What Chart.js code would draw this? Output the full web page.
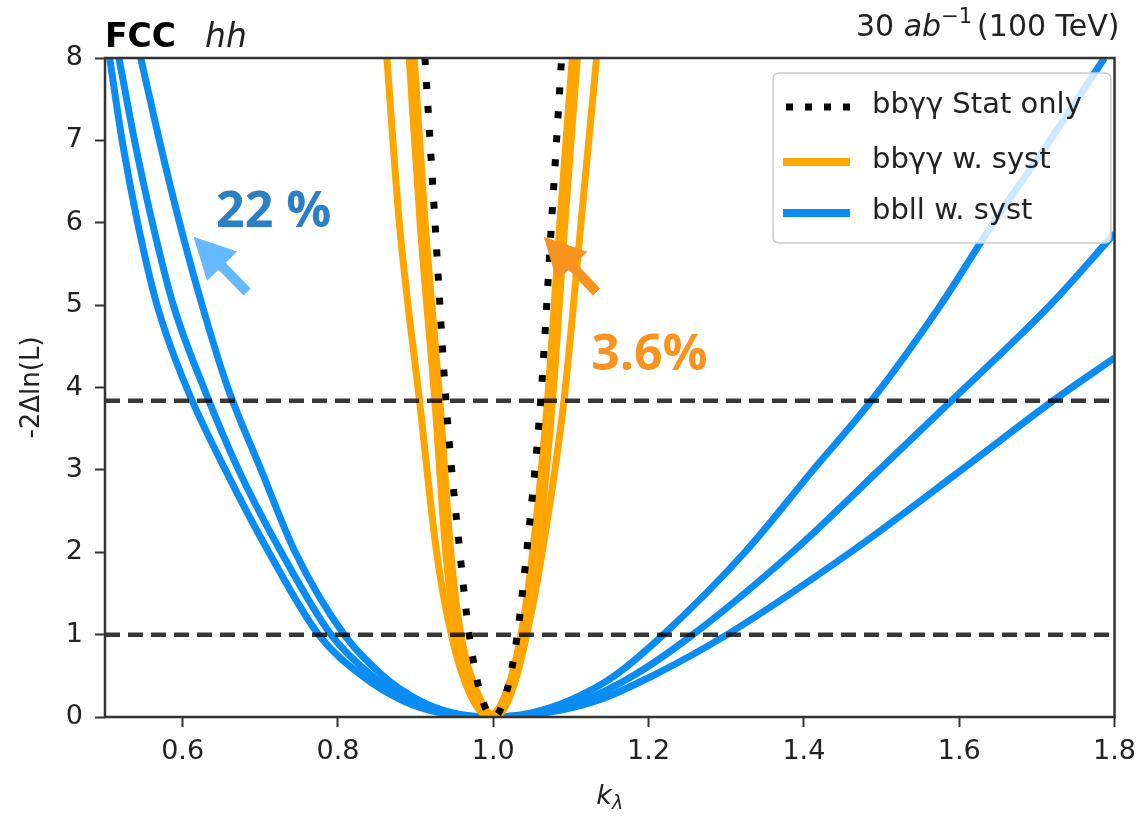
<!DOCTYPE html>
<html>
<head>
<meta charset="utf-8">
<script src="https://cdn.jsdelivr.net/npm/chart.js@4.4.1/dist/chart.umd.min.js"></script>
<style>
html,body{margin:0;padding:0;background:#ffffff;}
#wrap{width:1145px;height:816px;position:relative;}
</style>
</head>
<body>
<div id="wrap"><canvas id="c"></canvas></div>
<script>
// ---------- data ----------
const xTicks = [0.6, 0.8, 1.0, 1.2, 1.4, 1.6, 1.8];
const yTicks = [0, 1, 2, 3, 4, 5, 6, 7, 8];
const xRange = [0.5, 1.8];
const yRange = [0, 8];
const clLevels = [1, 3.84];

// bbγγ Stat only  [kλ, -2ΔlnL]
const bbyyStat = [[0.912,8],[0.925,6],[0.939,3.84],[0.957,2],[0.969,1],[0.983,0.3],[1.0,0],
                  [1.017,0.3],[1.031,1],[1.043,2],[1.061,3.84],[1.075,6],[1.088,8]];
// bbγγ w. syst (two scenarios)
const bbyySystA = [[0.895,8],[0.909,6],[0.928,3.84],[0.942,2],[0.955,1],[0.976,0.3],[0.998,0],
                   [1.020,0.3],[1.039,1],[1.054,2],[1.073,3.84],[1.089,6],[1.105,8]];
const bbyySystB = [[0.863,8],[0.879,6],[0.905,3.84],[0.927,2],[0.946,1],[0.969,0.3],[0.995,0],
                   [1.021,0.3],[1.043,1],[1.063,2],[1.091,3.84],[1.113,6],[1.133,8]];
// bbll w. syst (three scenarios)
const bbllA = [[0.506,8],[0.522,7],[0.542,6],[0.567,5],[0.605,4],[0.655,3],[0.711,2],[0.775,1],
               [0.831,0.5],[0.883,0.2],[0.932,0.05],[0.990,0],[1.067,0.05],[1.134,0.2],[1.205,0.5],
               [1.301,1],[1.460,2],[1.603,3],[1.721,3.84],[1.800,4.36]];
const bbllB = [[0.518,8],[0.538,7],[0.561,6],[0.588,5],[0.627,4],[0.672,3],[0.727,2],[0.791,1],
               [0.844,0.5],[0.894,0.2],[0.940,0.05],[0.995,0],[1.058,0.05],[1.116,0.2],[1.180,0.5],
               [1.257,1],[1.385,2],[1.497,3],[1.590,3.84],[1.717,5],[1.800,5.87]];
const bbllC = [[0.546,8],[0.570,7],[0.596,6],[0.625,5],[0.658,4],[0.701,3],[0.745,2],[0.808,1],
               [0.858,0.5],[0.905,0.2],[0.948,0.05],[1.000,0],[1.049,0.05],[1.098,0.2],[1.156,0.5],
               [1.219,1],[1.324,2],[1.412,3],[1.487,3.84],[1.576,5],[1.644,6],[1.717,7],[1.787,8]];

const legendLabels = ['bbγγ Stat only', 'bbγγ w. syst', 'bbll w. syst'];
const annot22 = {text: '22 %', at: [0.643, 5.95], tip: [0.614, 5.83], tail: [0.683, 5.16]};
const annot36 = {text: '3.6%', at: [1.126, 4.21], tip: [1.065, 5.83], tail: [1.133, 5.16]};

// ---------- styles ----------
const FONT = '"DejaVu Sans", sans-serif';
const BLUE = '#0a8cf2';
const ORANGE = '#ffa500';
const DASH_COLOR = 'rgba(0,0,0,0.78)';
const TXT = '#222222';

const toXY = arr => arr.map(([x, y]) => ({x, y}));
const curve = (arr, color, width, extra) => Object.assign({
  data: toXY(arr), borderColor: color, backgroundColor: color, borderWidth: width,
  pointRadius: 0, pointHoverRadius: 0, fill: false, cubicInterpolationMode: 'monotone',
  clip: 0, borderJoinStyle: 'round', borderCapStyle: 'butt'
}, extra || {});

const datasets = [];
clLevels.forEach(v => datasets.push(curve([[xRange[0], v], [xRange[1], v]], DASH_COLOR, 4.5,
  {borderDash: [15, 8], cubicInterpolationMode: 'default', tension: 0})));
datasets.push(curve(bbyyStat, '#000000', 7, {borderDash: [7, 17]}));
datasets.push(curve(bbyySystA, ORANGE, 12));
datasets.push(curve(bbyySystB, ORANGE, 7));
datasets.push(curve(bbllA, BLUE, 7));
datasets.push(curve(bbllB, BLUE, 7));
datasets.push(curve(bbllC, BLUE, 7));

function drawSegs(ctx, segs, x, y, align) {
  let total = 0;
  segs.forEach(s => { ctx.font = s.font; s.w = ctx.measureText(s.t).width; total += s.w + (s.gap || 0); });
  let cx = align === 'right' ? x - total : (align === 'center' ? x - total / 2 : x);
  segs.forEach(s => {
    ctx.font = s.font; ctx.fillStyle = s.color || TXT; ctx.textAlign = 'left'; ctx.textBaseline = 'alphabetic';
    ctx.fillText(s.t, cx, y + (s.dy || 0));
    cx += s.w + (s.gap || 0);
  });
}

function arrow(ctx, tip, tail, color) {
  const dx = tail[0] - tip[0], dy = tail[1] - tip[1];
  const len = Math.hypot(dx, dy), ux = dx / len, uy = dy / len, nx = -uy, ny = ux;
  const hl = 41, hw = 21, sw = 5;
  const bx = tip[0] + ux * hl, by = tip[1] + uy * hl;
  ctx.beginPath();
  ctx.moveTo(tip[0], tip[1]);
  ctx.lineTo(bx + nx * hw, by + ny * hw);
  ctx.lineTo(bx + nx * sw, by + ny * sw);
  ctx.lineTo(tail[0] + nx * sw, tail[1] + ny * sw);
  ctx.lineTo(tail[0] - nx * sw, tail[1] - ny * sw);
  ctx.lineTo(bx - nx * sw, by - ny * sw);
  ctx.lineTo(bx - nx * hw, by - ny * hw);
  ctx.closePath();
  ctx.fillStyle = color; ctx.fill();
}

const decor = {
  id: 'decor',
  afterDatasetsDraw(chart) {
    const {ctx, chartArea: a, scales: {x, y}} = chart;
    const P = p => [x.getPixelForValue(p[0]), y.getPixelForValue(p[1])];
    ctx.save();
    // frame
    ctx.strokeStyle = '#333333'; ctx.lineWidth = 2.5;
    ctx.strokeRect(a.left, a.top, a.right - a.left, a.bottom - a.top);

    // annotations
    arrow(ctx, P(annot22.tip), P(annot22.tail), '#66b8ff');
    arrow(ctx, P(annot36.tip), P(annot36.tail), '#f7931e');
    ctx.font = 'bold 50px "Open Sans", sans-serif'; ctx.textAlign = 'left'; ctx.textBaseline = 'alphabetic';
    let p = P(annot22.at); ctx.fillStyle = '#2b80c3'; ctx.fillText(annot22.text, p[0], p[1]);
    p = P(annot36.at); ctx.fillStyle = '#f7931e'; ctx.fillText(annot36.text, p[0], p[1]);

    // legend
    const L = 773, T = 73, W = 338, H = 170;
    ctx.beginPath();
    ctx.roundRect(L, T, W, H, 6);
    ctx.fillStyle = 'rgba(255,255,255,0.8)'; ctx.fill();
    ctx.strokeStyle = '#cccccc'; ctx.lineWidth = 1.5; ctx.stroke();
    const rows = [107, 162, 213];
    ctx.lineCap = 'butt';
    ctx.beginPath(); ctx.setLineDash([7, 12]); ctx.strokeStyle = '#000'; ctx.lineWidth = 7;
    ctx.moveTo(786, rows[0]); ctx.lineTo(850, rows[0]); ctx.stroke(); ctx.setLineDash([]);
    ctx.beginPath(); ctx.strokeStyle = ORANGE; ctx.lineWidth = 8;
    ctx.moveTo(783, rows[1]); ctx.lineTo(850, rows[1]); ctx.stroke();
    ctx.beginPath(); ctx.strokeStyle = BLUE; ctx.lineWidth = 8;
    ctx.moveTo(783, rows[2]); ctx.lineTo(850, rows[2]); ctx.stroke();
    ctx.font = '29px ' + FONT; ctx.fillStyle = TXT; ctx.textBaseline = 'middle'; ctx.textAlign = 'left';
    legendLabels.forEach((t, i) => ctx.fillText(t, 872, rows[i] - 2));

    // titles
    drawSegs(ctx, [
      {t: 'FCC', font: 'bold 33px ' + FONT, color: '#000', gap: 29},
      {t: 'hh', font: 'oblique 33px ' + FONT, color: '#222'}
    ], a.left, 47, 'left');
    drawSegs(ctx, [
      {t: '30 ', font: '30px ' + FONT},
      {t: 'ab', font: 'oblique 30px ' + FONT},
      {t: '\u22121', font: '21px ' + FONT, dy: -13, gap: 5},
      {t: '(100 TeV)', font: '30px ' + FONT}
    ], a.right + 5, 36, 'right');
    // x axis label k_λ
    drawSegs(ctx, [
      {t: 'k', font: 'oblique 27px ' + FONT},
      {t: 'λ', font: 'oblique 19px ' + FONT, dy: 5}
    ], (a.left + a.right) / 2, 804, 'center');
    ctx.restore();
  }
};

Chart.defaults.font.family = FONT;
new Chart(document.getElementById('c'), {
  type: 'line',
  data: {datasets},
  plugins: [decor],
  options: {
    responsive: true, maintainAspectRatio: false, animation: false,
    layout: {padding: {top: 58, right: 23, left: 0, bottom: 0}},
    plugins: {legend: {display: false}, tooltip: {enabled: false}},
    events: [],
    scales: {
      x: {
        type: 'linear', min: xRange[0], max: xRange[1],
        afterBuildTicks: s => { s.ticks = xTicks.map(v => ({value: v})); },
        afterFit: s => { s.height = 99; },
        ticks: {font: {size: 27}, color: TXT, padding: 9, autoSkip: false, maxRotation: 0,
                callback: v => Number(v).toFixed(1)},
        grid: {drawOnChartArea: false, drawTicks: true, tickLength: 10, tickWidth: 2, tickColor: '#333'},
        border: {display: false}
      },
      y: {
        type: 'linear', min: yRange[0], max: yRange[1],
        afterBuildTicks: s => { s.ticks = yTicks.map(v => ({value: v})); },
        afterFit: s => { s.width = 105; },
        ticks: {font: {size: 27}, color: TXT, padding: 12, callback: v => String(v)},
        grid: {drawOnChartArea: false, drawTicks: true, tickLength: 10, tickWidth: 2, tickColor: '#333'},
        border: {display: false},
        title: {display: true, text: '-2Δln(L)', font: {size: 26}, color: TXT, padding: {top: 17, bottom: 0}}
      }
    }
  }
});
</script>
</body>
</html>
